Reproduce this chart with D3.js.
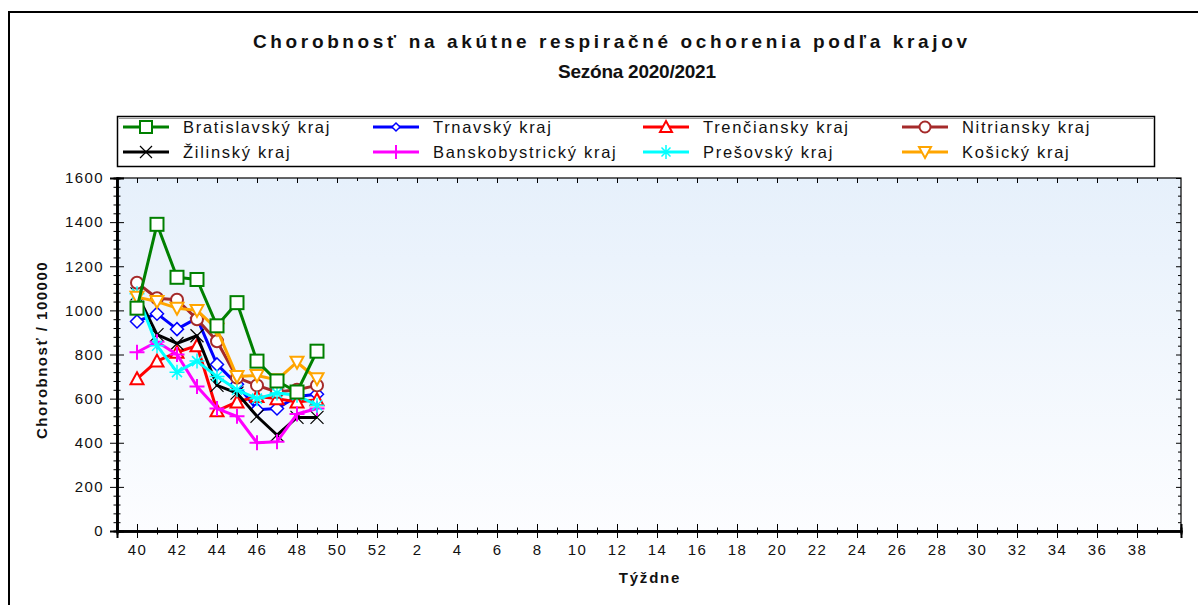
<!DOCTYPE html>
<html>
<head>
<meta charset="utf-8">
<script src="https://cdn.jsdelivr.net/npm/d3@7/dist/d3.min.js"></script>
<style>
    body { margin: 0; background: #fff; }
    text { font-family: "Liberation Sans", Arial, sans-serif; fill: #111; }
    .axis path, .axis line { stroke: #000; }
    .axis text { font-size: 15px; letter-spacing: 1.4px; fill: #111; font-family: "Liberation Sans", Arial, sans-serif; }
    .legend-label { font-size: 16.5px; letter-spacing: 1.7px; }
</style>
</head>
<body>
<div id="wrapper"></div>
<script>
var WIDTH = 1198, HEIGHT = 605;
var PLOT = {left: 117, top: 178, right: 1181, bottom: 531};

// week labels along x (season runs 40 .. 52, 1 .. 39)
var week_labels = d3.range(40, 53).concat(d3.range(1, 40));
var y_ticks = d3.range(0, 1601, 200);

var regions = ['Bratislavský kraj', 'Trnavský kraj', 'Trenčiansky kraj', 'Nitriansky kraj',
               'Žilinský kraj', 'Banskobystrický kraj', 'Prešovský kraj', 'Košický kraj'];

// weeks 40..49
var bratislavsky    = [1010, 1390, 1150, 1140, 930, 1035, 770, 680, 630, 815];
var trnavsky        = [950, 985, 915, 965, 755, 665, 550, 555, 610, 620];
var trenciansky     = [690, 770, 810, 840, 545, 585, 610, 600, 585, 595];
var nitriansky      = [1125, 1055, 1048, 960, 860, 695, 660, 630, 640, 660];
var zilinsky        = [1075, 890, 850, 885, 660, 625, 520, 435, 515, 515];
var banskobystricky = [810, 858, 800, 655, 555, 520, 400, 405, 530, 555];
var presovsky       = [1075, 840, 720, 770, 700, 640, 600, 625, 615, 570];
var kosicky         = [1060, 1040, 1010, 1000, 915, 700, 705, 685, 765, 690];

var series_values = [bratislavsky, trnavsky, trenciansky, nitriansky,
                     zilinsky, banskobystricky, presovsky, kosicky];
var colors = ['#008000', '#0000ff', '#ff0000', '#a52a2a', '#000000', '#ff00ff', '#00ffff', '#ffa500'];
var symbols = ['square', 'diamond', 'triangle', 'circle', 'cross_x', 'plus', 'star', 'triangle_down'];

var svg = d3.select('#wrapper').append('svg')
    .attr('width', WIDTH)
    .attr('height', HEIGHT);

// outer frame
svg.append('path')
    .attr('d', 'M9,' + HEIGHT + ' V12 H' + WIDTH)
    .attr('fill', 'none')
    .attr('stroke', '#000')
    .attr('stroke-width', 2);

// titles
svg.append('text')
    .attr('x', 610).attr('y', 48)
    .attr('text-anchor', 'middle')
    .style('font-size', '19px').style('font-weight', 'bold')
    .attr('textLength', 714).attr('lengthAdjust', 'spacing')
    .text('Chorobnosť na akútne respiračné ochorenia podľa krajov');
svg.append('text')
    .attr('x', 637).attr('y', 78)
    .attr('text-anchor', 'middle')
    .style('font-size', '19px').style('font-weight', 'bold')
    .attr('textLength', 158).attr('lengthAdjust', 'spacing')
    .text('Sezóna 2020/2021');

// scales
var scale_x = d3.scaleLinear()
    .domain([-1, 52.2])
    .range([PLOT.left, PLOT.right]);
var scale_y = d3.scaleLinear()
    .domain([0, 1600])
    .range([PLOT.bottom, PLOT.top]);

// plot background
var defs = svg.append('defs');
var grad = defs.append('linearGradient')
    .attr('id', 'bg').attr('x1', 0).attr('y1', 0).attr('x2', 0).attr('y2', 1);
grad.append('stop').attr('offset', '0%').attr('stop-color', '#e6f0fb');
grad.append('stop').attr('offset', '100%').attr('stop-color', '#fcfdff');

svg.append('rect')
    .attr('x', PLOT.left).attr('y', PLOT.top)
    .attr('width', PLOT.right - PLOT.left)
    .attr('height', PLOT.bottom - PLOT.top)
    .attr('fill', 'url(#bg)')
    .attr('stroke', '#000')
    .attr('stroke-width', 1.2);

var major_x = d3.range(0, 52, 2);
var minor_x = d3.range(1, 52, 2);
var minor_y = d3.range(0, 1601, 40).filter(function(v) { return v % 200 !== 0; });

function no_label() { return ''; }

// y axis: labelled major ticks crossing the axis line, short minor ticks
var y_axis = svg.append('g').attr('class', 'axis')
    .attr('transform', 'translate(' + PLOT.left + ',0)');
y_axis.append('g').call(d3.axisLeft(scale_y).tickValues(y_ticks).tickSize(7).tickPadding(6)
    .tickFormat(d3.format('d')));
y_axis.append('g').call(d3.axisRight(scale_y).tickValues(y_ticks).tickSize(7).tickFormat(no_label));
y_axis.append('g').call(d3.axisLeft(scale_y).tickValues(minor_y).tickSize(3.5).tickFormat(no_label));
y_axis.append('g').call(d3.axisRight(scale_y).tickValues(minor_y).tickSize(3.5).tickFormat(no_label));
y_axis.selectAll('path.domain').attr('stroke-width', 2);

// x axis
var x_axis = svg.append('g').attr('class', 'axis')
    .attr('transform', 'translate(0,' + PLOT.bottom + ')');
x_axis.append('g').call(d3.axisBottom(scale_x).tickValues(major_x).tickSize(7).tickPadding(6)
    .tickFormat(function(i) { return week_labels[i]; }));
x_axis.append('g').call(d3.axisTop(scale_x).tickValues(major_x).tickSize(7).tickFormat(no_label));
x_axis.append('g').call(d3.axisBottom(scale_x).tickValues(minor_x).tickSize(3.5).tickFormat(no_label));
x_axis.append('g').call(d3.axisTop(scale_x).tickValues(minor_x).tickSize(3.5).tickFormat(no_label));
x_axis.selectAll('path.domain').attr('stroke-width', 2);

// ticks on top and right border, pointing inward
var top_axis = svg.append('g').attr('class', 'axis')
    .attr('transform', 'translate(0,' + PLOT.top + ')');
top_axis.append('g').call(d3.axisBottom(scale_x).tickValues(major_x).tickSize(5).tickFormat(no_label));
top_axis.append('g').call(d3.axisBottom(scale_x).tickValues(minor_x).tickSize(3).tickFormat(no_label));
top_axis.selectAll('path.domain').remove();
var right_axis = svg.append('g').attr('class', 'axis')
    .attr('transform', 'translate(' + PLOT.right + ',0)');
right_axis.append('g').call(d3.axisLeft(scale_y).tickValues(y_ticks).tickSize(5).tickFormat(no_label));
right_axis.append('g').call(d3.axisLeft(scale_y).tickValues(minor_y).tickSize(3).tickFormat(no_label));
right_axis.selectAll('path.domain').remove();

// axis titles
svg.append('text')
    .attr('transform', 'translate(47,350) rotate(-90)')
    .attr('text-anchor', 'middle')
    .style('font-size', '15px').style('font-weight', 'bold').style('letter-spacing', '1.5px')
    .text('Chorobnosť / 100000');
svg.append('text')
    .attr('x', 650).attr('y', 583)
    .attr('text-anchor', 'middle')
    .style('font-size', '15px').style('font-weight', 'bold').style('letter-spacing', '1.8px')
    .text('Týždne');

// marker drawing
function draw_marker(g, symbol, color, x, y, s) {
    if (symbol === 'square') {
        g.append('rect').attr('x', x - s).attr('y', y - s).attr('width', 2 * s).attr('height', 2 * s)
            .attr('fill', '#fff').attr('stroke', color).attr('stroke-width', 2);
    } else if (symbol === 'diamond') {
        g.append('path').attr('d', 'M' + x + ',' + (y - s) + 'L' + (x + s) + ',' + y + 'L' + x + ',' + (y + s) + 'L' + (x - s) + ',' + y + 'Z')
            .attr('fill', '#fff').attr('stroke', color).attr('stroke-width', 1.5);
    } else if (symbol === 'triangle') {
        g.append('path').attr('d', 'M' + x + ',' + (y - s) + 'L' + (x + s) + ',' + (y + s - 1) + 'L' + (x - s) + ',' + (y + s - 1) + 'Z')
            .attr('fill', '#fff').attr('stroke', color).attr('stroke-width', 2);
    } else if (symbol === 'triangle_down') {
        g.append('path').attr('d', 'M' + x + ',' + (y + s) + 'L' + (x + s) + ',' + (y - s + 1) + 'L' + (x - s) + ',' + (y - s + 1) + 'Z')
            .attr('fill', '#fff').attr('stroke', color).attr('stroke-width', 2);
    } else if (symbol === 'circle') {
        g.append('circle').attr('cx', x).attr('cy', y).attr('r', s - 0.5)
            .attr('fill', '#fff').attr('stroke', color).attr('stroke-width', 2);
    } else if (symbol === 'cross_x') {
        g.append('path').attr('d', 'M' + (x - s) + ',' + (y - s) + 'L' + (x + s) + ',' + (y + s) + 'M' + (x + s) + ',' + (y - s) + 'L' + (x - s) + ',' + (y + s))
            .attr('stroke', color).attr('stroke-width', 1.2);
    } else if (symbol === 'plus') {
        g.append('path').attr('d', 'M' + (x - s - 1) + ',' + y + 'H' + (x + s + 1) + 'M' + x + ',' + (y - s - 1) + 'V' + (y + s + 1))
            .attr('stroke', color).attr('stroke-width', 2);
    } else if (symbol === 'star') {
        var d = s - 1.5;
        g.append('path').attr('d', 'M' + (x - s - 1) + ',' + y + 'H' + (x + s + 1) + 'M' + x + ',' + (y - s - 1) + 'V' + (y + s + 1) +
                'M' + (x - d) + ',' + (y - d) + 'L' + (x + d) + ',' + (y + d) + 'M' + (x + d) + ',' + (y - d) + 'L' + (x - d) + ',' + (y + d))
            .attr('stroke', color).attr('stroke-width', 1.5);
    }
}

// series, Bratislavský drawn last so it sits on top
var line = d3.line()
    .x(function(d, i) { return scale_x(i); })
    .y(function(d) { return scale_y(d); });

var order = [1, 2, 3, 4, 5, 6, 7, 0];
var series_area = svg.append('g').attr('id', 'series');
order.forEach(function(k) {
    var g = series_area.append('g');
    g.append('path')
        .attr('d', line(series_values[k]))
        .attr('fill', 'none')
        .attr('stroke', colors[k])
        .attr('stroke-width', 3)
        .attr('stroke-linejoin', 'round');
    series_values[k].forEach(function(v, i) {
        draw_marker(g, symbols[k], colors[k], scale_x(i), scale_y(v), 6.5);
    });
});

// legend
var legend = svg.append('g').attr('id', 'legend');
legend.append('rect')
    .attr('x', 117.5).attr('y', 116.5).attr('width', 1037).attr('height', 50)
    .attr('fill', '#fff').attr('stroke', '#000').attr('stroke-width', 1.5);
legend.append('path')
    .attr('d', 'M119,118.5 H1153')
    .attr('stroke', '#999').attr('stroke-width', 1);

var legend_cols = [123, 373, 643, 902];
var legend_rows = [127, 152];
regions.forEach(function(name, k) {
    var lx = legend_cols[k % 4], ly = legend_rows[Math.floor(k / 4)];
    var g = legend.append('g');
    g.append('line')
        .attr('x1', lx).attr('x2', lx + 46)
        .attr('y1', ly).attr('y2', ly)
        .attr('stroke', colors[k]).attr('stroke-width', 3);
    draw_marker(g, symbols[k], colors[k], lx + 23, ly, symbols[k] === 'diamond' ? 4 : 6);
    g.append('text')
        .attr('class', 'legend-label')
        .attr('x', lx + 60).attr('y', ly + 6)
        .text(name);
});
</script>
</body>
</html>
